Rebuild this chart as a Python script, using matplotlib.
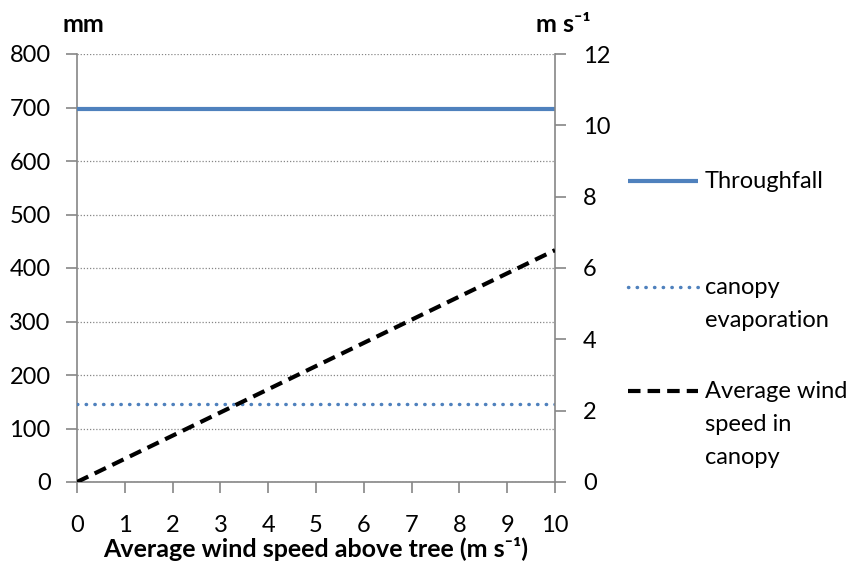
import matplotlib
matplotlib.use("Agg")
import matplotlib.pyplot as plt
from matplotlib.lines import Line2D

plt.rcParams['font.family'] = ['Lato', 'DejaVu Sans']

wind_above = [0, 1, 2, 3, 4, 5, 6, 7, 8, 9, 10]
throughfall = [697, 697, 697, 697, 697, 697, 697, 697, 697, 697, 697]
canopy_evap = [145, 145, 145, 145, 145, 145, 145, 145, 145, 145, 145]
wind_canopy = [0, 0.65, 1.3, 1.95, 2.6, 3.25, 3.9, 4.55, 5.2, 5.85, 6.5]

left_ticks = [0, 100, 200, 300, 400, 500, 600, 700, 800]
right_ticks = [0, 2, 4, 6, 8, 10, 12]
x_ticks = [0, 1, 2, 3, 4, 5, 6, 7, 8, 9, 10]

blue = '#4F81BD'
grey = '#868686'
fs = 17
fsb = 18

fig = plt.figure(figsize=(8.53, 5.61), dpi=100)
ax = fig.add_axes([77/853, 1-482/561, (555-77)/853, (482-54)/561])
ax2 = ax.twinx()

ax.plot(wind_above, throughfall, color=blue, lw=3, solid_capstyle='butt', zorder=3)
ax.plot(wind_above, canopy_evap, color=blue, lw=2.5, linestyle=(0, (0.1, 2.4)),
        dash_capstyle='round', zorder=3)
ax2.plot(wind_above, wind_canopy, color='black', lw=3, linestyle=(0, (3, 1.7)),
         zorder=3)

ax.set_xlim(0, 10)
ax.set_ylim(0, 800)
ax2.set_ylim(0, 12)
ax.set_xticks(x_ticks)
ax.set_yticks(left_ticks)
ax2.set_yticks(right_ticks)
ax.yaxis.grid(True, linestyle=(0, (1, 1.5)), color=grey, lw=0.9)
ax.set_axisbelow(True)

for a in (ax, ax2):
    a.spines['top'].set_visible(False)
    for s in ('left', 'right', 'bottom'):
        a.spines[s].set_color(grey)
        a.spines[s].set_linewidth(1.2)
    a.tick_params(colors=grey, labelcolor='black', labelsize=fs, length=8, width=1.2)
ax.spines['right'].set_visible(False)
ax2.spines['left'].set_visible(False)
ax2.spines['bottom'].set_visible(False)
ax.tick_params(axis='x', pad=16)
ax.tick_params(axis='y', pad=11)
ax2.tick_params(axis='y', pad=12)

fig.text(316/853, 1-549/561, 'Average wind speed above tree (m s⁻¹)', fontsize=fsb,
         fontweight='bold', ha='center', va='center')

fig.text(83/853, 1-25/561, 'mm', fontsize=fsb, fontweight='bold', ha='center', va='center')
fig.text(563/853, 1-25/561, 'm s⁻¹', fontsize=fsb, fontweight='bold', ha='center', va='center')

# legend
leg_items = [
    (181, ['Throughfall'], dict(color=blue, lw=3, solid_capstyle='butt')),
    (287, ['canopy', 'evaporation'], dict(color=blue, lw=2.5, linestyle=(0, (0.1, 2.4)), dash_capstyle='round')),
    (391, ['Average wind', 'speed in', 'canopy'], dict(color='black', lw=3, linestyle=(0, (3, 1.7)))),
]
for ypix, lines, style in leg_items:
    yf = 1 - ypix/561
    fig.add_artist(Line2D([628/853, 698/853], [yf, yf], transform=fig.transFigure, **style))
    for i, t in enumerate(lines):
        fig.text(705/853, 1 - (ypix + i*33.5)/561, t, fontsize=fs, ha='left', va='center')

fig.savefig('out.png', dpi=100)
